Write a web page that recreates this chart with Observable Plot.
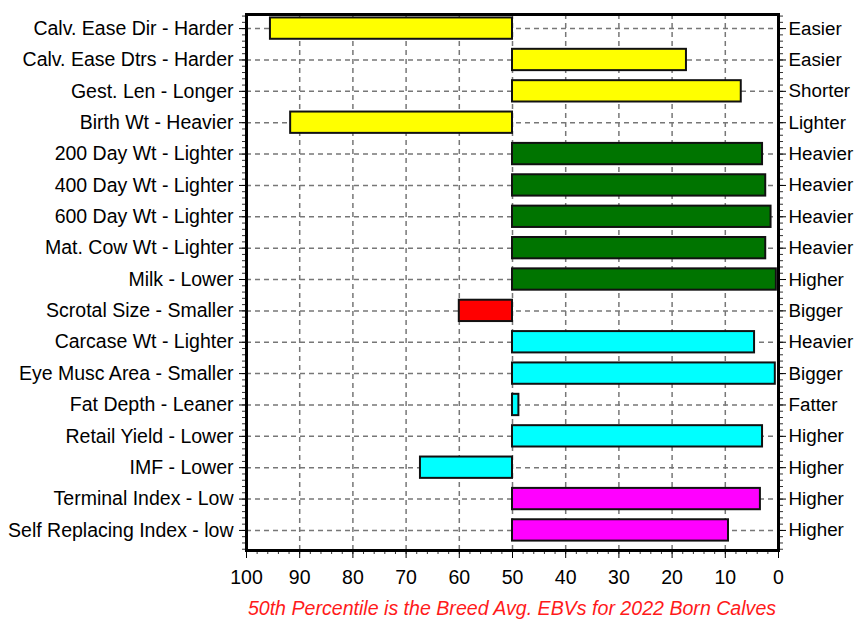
<!DOCTYPE html>
<html>
<head>
<meta charset="utf-8">
<script src="https://cdn.jsdelivr.net/npm/d3@7"></script>
<script src="https://cdn.jsdelivr.net/npm/@observablehq/plot@0.6"></script>
<style>
  body { margin: 0; background: #fff; font-family: "Liberation Sans", Arial, sans-serif; }
  #caption { margin-left: 232px; width: 560px; text-align: center; color: #ff1a1a; font-style: italic; font-size: 19.6px; line-height: 22px; padding-top: 7px; }
</style>
</head>
<body>
<div id="chart"></div>
<div id="caption">50th Percentile is the Breed Avg. EBVs for 2022 Born Calves</div>
<script>
const leftLabels = [
  "Calv. Ease Dir - Harder", "Calv. Ease Dtrs - Harder", "Gest. Len - Longer", "Birth Wt - Heavier",
  "200 Day Wt - Lighter", "400 Day Wt - Lighter", "600 Day Wt - Lighter", "Mat. Cow Wt - Lighter",
  "Milk - Lower", "Scrotal Size - Smaller", "Carcase Wt - Lighter", "Eye Musc Area - Smaller",
  "Fat Depth - Leaner", "Retail Yield - Lower", "IMF - Lower", "Terminal Index - Low", "Self Replacing Index - low"
];
const rightLabels = [
  "Easier", "Easier", "Shorter", "Lighter",
  "Heavier", "Heavier", "Heavier", "Heavier",
  "Higher", "Bigger", "Heavier", "Bigger",
  "Fatter", "Higher", "Higher", "Higher", "Higher"
];
const percentiles = [95.5, 17.3, 7.0, 91.7, 3.0, 2.4, 1.4, 2.4, 0.4, 60, 4.5, 0.6, 48.8, 3.0, 67.3, 3.4, 9.4];
const barColors = [
  "#ffff00", "#ffff00", "#ffff00", "#ffff00",
  "#007400", "#007400", "#007400", "#007400", "#007400",
  "#ff0000",
  "#00ffff", "#00ffff", "#00ffff", "#00ffff", "#00ffff",
  "#ff00ff", "#ff00ff"
];
const xTicks = [100, 90, 80, 70, 60, 50, 40, 30, 20, 10, 0];
const baseline = 50;

const rows = leftLabels.map((name, i) => ({i, name, right: rightLabels[i], value: percentiles[i], color: barColors[i]}));
const idx = rows.map(d => d.i);
const xMinor = d3.range(0, 101, 2);
const yMinor = d3.range(-0.4, 16.61, 0.2).map(v => Math.round(v * 10) / 10);

const font = "Liberation Sans, Arial, sans-serif";
const chart = Plot.plot({
  width: 856,
  height: 590,
  marginLeft: 246,
  marginRight: 78,
  marginTop: 14,
  marginBottom: 40,
  style: {fontFamily: font, fontSize: "19.5px", color: "black", background: "white"},
  x: {domain: [100, 0], label: null},
  y: {domain: [16.64, -0.45], label: null},
  color: {type: "identity"},
  marks: [
    Plot.ruleX(xTicks.slice(1, -1), {stroke: "#777", strokeWidth: 1.5, strokeDasharray: "5,4"}),
    Plot.ruleY(idx, {y: d => d, stroke: "#777", strokeWidth: 1.5, strokeDasharray: "5,4"}),
    Plot.rectX(rows, {
      x1: () => baseline, x2: "value",
      y1: d => d.i - 0.34, y2: d => d.i + 0.34,
      fill: "color", stroke: "#111", strokeWidth: 2
    }),
    Plot.axisX({ticks: xMinor, tickFormat: () => "", tickSize: 4, anchor: "bottom", stroke: "#333", label: null}),
    Plot.axisX({ticks: xTicks, tickSize: 8, tickPadding: 12, anchor: "bottom", fontSize: 19.5, fill: "black", label: null}),
    Plot.axisY({ticks: yMinor, tickFormat: () => "", tickSize: 4, anchor: "left", stroke: "#333", label: null}),
    Plot.axisY({ticks: yMinor, tickFormat: () => "", tickSize: 4, anchor: "right", stroke: "#333", label: null}),
    Plot.axisY({ticks: idx, tickFormat: i => leftLabels[i], tickSize: 7, tickPadding: 6, anchor: "left", fontSize: 19.5, fill: "black", label: null}),
    Plot.axisY({ticks: idx, tickFormat: i => rightLabels[i], tickSize: 7, tickPadding: 3, anchor: "right", fontSize: 18.8, fill: "black", textAnchor: "start", label: null}),
    Plot.frame({stroke: "black", strokeWidth: 3})
  ]
});
document.getElementById("chart").appendChild(chart);
</script>
</body>
</html>
